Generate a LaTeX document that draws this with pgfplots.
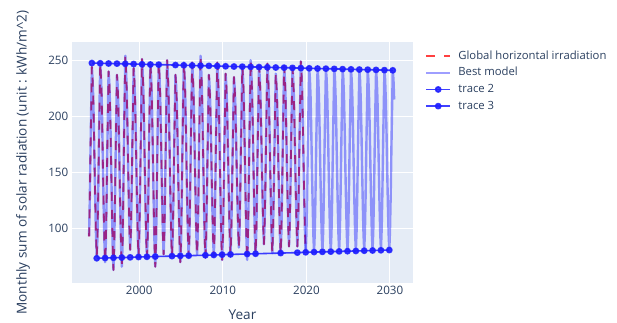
\documentclass[border=0pt]{standalone}
\usepackage{fontspec}
\setmainfont{Open Sans}
\usepackage{pgfplots}
\usepackage{pgfplotstable}
\pgfplotsset{compat=1.18}
\definecolor{bgc}{HTML}{E5ECF6}
\definecolor{txt}{HTML}{2A3F5F}
\definecolor{tr}{RGB}{30,30,255}

\pgfplotstableread[row sep=\\]{
yr mo v\\
1994 1 93\\ 1994 2 125\\ 1994 3 168\\ 1994 4 207\\ 1994 5 244\\ 1994 6 233\\ 1994 7 216\\ 1994 8 187\\ 1994 9 152\\ 1994 10 121\\ 1994 11 92\\ 1994 12 75\\
1995 1 91\\ 1995 2 127\\ 1995 3 171\\ 1995 4 210\\ 1995 5 247\\ 1995 6 236\\ 1995 7 219\\ 1995 8 188\\ 1995 9 150\\ 1995 10 117\\ 1995 11 88\\ 1995 12 70\\
1996 1 86\\ 1996 2 120\\ 1996 3 164\\ 1996 4 203\\ 1996 5 240\\ 1996 6 230\\ 1996 7 212\\ 1996 8 181\\ 1996 9 146\\ 1996 10 112\\ 1996 11 81\\ 1996 12 63\\
1997 1 82\\ 1997 2 118\\ 1997 3 160\\ 1997 4 199\\ 1997 5 237\\ 1997 6 228\\ 1997 7 210\\ 1997 8 178\\ 1997 9 143\\ 1997 10 110\\ 1997 11 83\\ 1997 12 66\\
1998 1 84\\ 1998 2 124\\ 1998 3 172\\ 1998 4 215\\ 1998 5 254\\ 1998 6 242\\ 1998 7 224\\ 1998 8 193\\ 1998 9 158\\ 1998 10 126\\ 1998 11 98\\ 1998 12 81\\
1999 1 97\\ 1999 2 128\\ 1999 3 170\\ 1999 4 206\\ 1999 5 243\\ 1999 6 232\\ 1999 7 215\\ 1999 8 185\\ 1999 9 151\\ 1999 10 119\\ 1999 11 91\\ 1999 12 74\\
2000 1 92\\ 2000 2 126\\ 2000 3 172\\ 2000 4 212\\ 2000 5 251\\ 2000 6 239\\ 2000 7 221\\ 2000 8 191\\ 2000 9 154\\ 2000 10 121\\ 2000 11 92\\ 2000 12 74\\
2001 1 90\\ 2001 2 125\\ 2001 3 170\\ 2001 4 210\\ 2001 5 248\\ 2001 6 236\\ 2001 7 218\\ 2001 8 187\\ 2001 9 150\\ 2001 10 114\\ 2001 11 84\\ 2001 12 66\\
2002 1 84\\ 2002 2 122\\ 2002 3 168\\ 2002 4 210\\ 2002 5 248\\ 2002 6 237\\ 2002 7 220\\ 2002 8 190\\ 2002 9 155\\ 2002 10 123\\ 2002 11 94\\ 2002 12 77\\
2003 1 94\\ 2003 2 128\\ 2003 3 172\\ 2003 4 212\\ 2003 5 250\\ 2003 6 239\\ 2003 7 222\\ 2003 8 191\\ 2003 9 156\\ 2003 10 122\\ 2003 11 93\\ 2003 12 75\\
2004 1 92\\ 2004 2 123\\ 2004 3 164\\ 2004 4 200\\ 2004 5 237\\ 2004 6 227\\ 2004 7 210\\ 2004 8 180\\ 2004 9 146\\ 2004 10 114\\ 2004 11 87\\ 2004 12 70\\
2005 1 88\\ 2005 2 124\\ 2005 3 170\\ 2005 4 210\\ 2005 5 248\\ 2005 6 237\\ 2005 7 220\\ 2005 8 189\\ 2005 9 153\\ 2005 10 120\\ 2005 11 92\\ 2005 12 75\\
2006 1 93\\ 2006 2 127\\ 2006 3 171\\ 2006 4 211\\ 2006 5 248\\ 2006 6 236\\ 2006 7 219\\ 2006 8 190\\ 2006 9 155\\ 2006 10 123\\ 2006 11 94\\ 2006 12 77\\
2007 1 95\\ 2007 2 130\\ 2007 3 176\\ 2007 4 216\\ 2007 5 254\\ 2007 6 242\\ 2007 7 224\\ 2007 8 193\\ 2007 9 156\\ 2007 10 122\\ 2007 11 91\\ 2007 12 74\\
2008 1 91\\ 2008 2 123\\ 2008 3 164\\ 2008 4 200\\ 2008 5 237\\ 2008 6 227\\ 2008 7 210\\ 2008 8 181\\ 2008 9 148\\ 2008 10 118\\ 2008 11 92\\ 2008 12 75\\
2009 1 93\\ 2009 2 126\\ 2009 3 170\\ 2009 4 210\\ 2009 5 248\\ 2009 6 237\\ 2009 7 219\\ 2009 8 189\\ 2009 9 152\\ 2009 10 118\\ 2009 11 89\\ 2009 12 72\\
2010 1 90\\ 2010 2 122\\ 2010 3 164\\ 2010 4 201\\ 2010 5 238\\ 2010 6 228\\ 2010 7 211\\ 2010 8 181\\ 2010 9 149\\ 2010 10 119\\ 2010 11 93\\ 2010 12 76\\
2011 1 94\\ 2011 2 125\\ 2011 3 164\\ 2011 4 199\\ 2011 5 235\\ 2011 6 226\\ 2011 7 210\\ 2011 8 182\\ 2011 9 152\\ 2011 10 124\\ 2011 11 100\\ 2011 12 83\\
2012 1 99\\ 2012 2 130\\ 2012 3 171\\ 2012 4 208\\ 2012 5 245\\ 2012 6 235\\ 2012 7 218\\ 2012 8 187\\ 2012 9 151\\ 2012 10 117\\ 2012 11 89\\ 2012 12 72\\
2013 1 90\\ 2013 2 126\\ 2013 3 172\\ 2013 4 212\\ 2013 5 250\\ 2013 6 239\\ 2013 7 221\\ 2013 8 191\\ 2013 9 156\\ 2013 10 122\\ 2013 11 94\\ 2013 12 77\\
2014 1 95\\ 2014 2 129\\ 2014 3 171\\ 2014 4 208\\ 2014 5 245\\ 2014 6 235\\ 2014 7 219\\ 2014 8 191\\ 2014 9 159\\ 2014 10 129\\ 2014 11 103\\ 2014 12 86\\
2015 1 104\\ 2015 2 134\\ 2015 3 175\\ 2015 4 211\\ 2015 5 247\\ 2015 6 236\\ 2015 7 219\\ 2015 8 190\\ 2015 9 155\\ 2015 10 124\\ 2015 11 96\\ 2015 12 78\\
2016 1 96\\ 2016 2 127\\ 2016 3 167\\ 2016 4 202\\ 2016 5 238\\ 2016 6 228\\ 2016 7 212\\ 2016 8 183\\ 2016 9 150\\ 2016 10 120\\ 2016 11 94\\ 2016 12 77\\
2017 1 95\\ 2017 2 128\\ 2017 3 170\\ 2017 4 208\\ 2017 5 245\\ 2017 6 235\\ 2017 7 219\\ 2017 8 190\\ 2017 9 157\\ 2017 10 127\\ 2017 11 101\\ 2017 12 84\\
2018 1 101\\ 2018 2 132\\ 2018 3 172\\ 2018 4 208\\ 2018 5 244\\ 2018 6 234\\ 2018 7 218\\ 2018 8 190\\ 2018 9 157\\ 2018 10 127\\ 2018 11 101\\ 2018 12 84\\
2019 1 101\\ 2019 2 133\\ 2019 3 175\\ 2019 4 212\\ 2019 5 249\\ 2019 6 238\\ 2019 7 221\\ 2019 8 191\\ 2019 9 156\\ 2019 10 124\\ 2019 11 96\\ 2019 12 78\\
}\ghi

\pgfplotstableread[row sep=\\]{
yr mo v\\
2019 12 78\\
2020 1 95\\ 2020 2 127\\ 2020 3 170\\ 2020 4 207\\ 2020 5 242.8\\ 2020 6 234\\ 2020 7 217\\ 2020 8 187\\ 2020 9 152\\ 2020 10 121\\ 2020 11 94\\ 2020 12 79.0\\
2021 1 96\\ 2021 2 128\\ 2021 3 170\\ 2021 4 207\\ 2021 5 242.6\\ 2021 6 234\\ 2021 7 217\\ 2021 8 187\\ 2021 9 152\\ 2021 10 121\\ 2021 11 94\\ 2021 12 79.2\\
2022 1 96\\ 2022 2 128\\ 2022 3 170\\ 2022 4 207\\ 2022 5 242.5\\ 2022 6 234\\ 2022 7 216\\ 2022 8 187\\ 2022 9 152\\ 2022 10 121\\ 2022 11 94\\ 2022 12 79.4\\
2023 1 96\\ 2023 2 128\\ 2023 3 170\\ 2023 4 207\\ 2023 5 242.3\\ 2023 6 234\\ 2023 7 216\\ 2023 8 187\\ 2023 9 152\\ 2023 10 121\\ 2023 11 95\\ 2023 12 79.6\\
2024 1 97\\ 2024 2 129\\ 2024 3 170\\ 2024 4 207\\ 2024 5 242.1\\ 2024 6 234\\ 2024 7 216\\ 2024 8 187\\ 2024 9 152\\ 2024 10 121\\ 2024 11 95\\ 2024 12 79.8\\
2025 1 97\\ 2025 2 129\\ 2025 3 170\\ 2025 4 207\\ 2025 5 241.9\\ 2025 6 233\\ 2025 7 216\\ 2025 8 187\\ 2025 9 152\\ 2025 10 121\\ 2025 11 95\\ 2025 12 80.0\\
2026 1 97\\ 2026 2 129\\ 2026 3 170\\ 2026 4 207\\ 2026 5 241.7\\ 2026 6 233\\ 2026 7 216\\ 2026 8 187\\ 2026 9 152\\ 2026 10 121\\ 2026 11 95\\ 2026 12 80.2\\
2027 1 97\\ 2027 2 129\\ 2027 3 170\\ 2027 4 207\\ 2027 5 241.6\\ 2027 6 233\\ 2027 7 216\\ 2027 8 187\\ 2027 9 152\\ 2027 10 121\\ 2027 11 95\\ 2027 12 80.4\\
2028 1 98\\ 2028 2 129\\ 2028 3 170\\ 2028 4 207\\ 2028 5 241.4\\ 2028 6 233\\ 2028 7 216\\ 2028 8 187\\ 2028 9 152\\ 2028 10 121\\ 2028 11 96\\ 2028 12 80.6\\
2029 1 98\\ 2029 2 129\\ 2029 3 170\\ 2029 4 207\\ 2029 5 241.2\\ 2029 6 233\\ 2029 7 215\\ 2029 8 187\\ 2029 9 152\\ 2029 10 121\\ 2029 11 96\\ 2029 12 80.8\\
2030 1 98\\ 2030 2 129\\ 2030 3 170\\ 2030 4 207\\ 2030 5 241.0\\ 2030 6 233\\ 2030 7 215\\
}\model

\pgfplotstableread[row sep=\\]{
yr mo v\\
1994 5 247.5\\ 1995 5 247.3\\ 1996 5 247.1\\ 1997 5 247.0\\ 1998 5 246.8\\ 1999 5 246.6\\ 2000 5 246.4\\ 2001 5 246.2\\ 2002 5 246.1\\
2004 5 245.7\\ 2005 5 245.5\\ 2006 5 245.3\\ 2007 5 245.2\\ 2008 5 245.0\\ 2009 5 244.8\\ 2010 5 244.6\\ 2011 5 244.4\\ 2012 5 244.3\\
2013 5 244.1\\ 2014 5 243.9\\ 2015 5 243.7\\ 2016 5 243.5\\ 2017 5 243.4\\ 2018 5 243.2\\ 2019 5 243.0\\ 2020 5 242.8\\ 2021 5 242.6\\
2022 5 242.5\\ 2023 5 242.3\\ 2024 5 242.1\\ 2025 5 241.9\\ 2026 5 241.7\\ 2027 5 241.6\\ 2028 5 241.4\\ 2029 5 241.2\\ 2030 5 241.0\\
}\trA

\pgfplotstableread[row sep=\\]{
yr mo v\\
1994 12 73.5\\ 1995 12 73.7\\ 1996 12 73.9\\ 1997 12 74.1\\ 1998 12 74.3\\ 1999 12 74.6\\ 2000 12 74.8\\ 2001 12 75.0\\
2003 12 75.4\\ 2004 12 75.6\\ 2005 12 75.8\\ 2007 12 76.2\\ 2008 12 76.4\\ 2009 12 76.7\\ 2010 12 76.9\\ 2012 12 77.3\\ 2013 12 77.5\\
2016 12 78.1\\ 2018 12 78.5\\ 2019 12 78.8\\ 2020 12 79.0\\ 2021 12 79.2\\ 2022 12 79.4\\ 2023 12 79.6\\ 2024 12 79.8\\ 2025 12 80.0\\
2026 12 80.2\\ 2027 12 80.4\\ 2028 12 80.6\\ 2029 12 80.8\\
}\trB

\begin{document}
\begin{tikzpicture}
\useasboundingbox (0,0) rectangle (617pt,323pt);
\begin{axis}[
  at={(71.7pt,40.3pt)}, anchor=south west,
  scale only axis, width=341.6pt, height=240.4pt,
  xmin=1991.92, xmax=2032.79, ymin=51.7, ymax=266,
  axis background/.style={fill=bgc},
  axis line style={draw=none},
  major tick length=0pt,
  xtick={2000,2010,2020,2030},
  ytick={100,150,200,250},
  grid=major,
  major grid style={white, line width=1pt},
  /pgf/number format/assume math mode=true,
  /pgf/number format/1000 sep={},
  tick label style={font=\fontsize{11.6}{14}\selectfont, text=txt},
  xlabel={Year},
  ylabel={Monthly sum of solar radiation (unit : kWh/m\textasciicircum 2)},
  label style={font=\fontsize{13.6}{16}\selectfont, text=txt},
  xlabel style={at={(axis description cs:0.5,-0.1344)}, anchor=center},
  ylabel style={at={(axis description cs:-0.1426,0.5)}, anchor=center},
  legend cell align=left,
  legend style={at={(1,1)}, anchor=north west, xshift=11.7pt, yshift=-8pt,
    draw=none, fill=none, inner sep=0pt, outer sep=0pt,
    row sep=5.2pt, column sep=7pt,
    font=\fontsize{11.3}{14}\selectfont, text=txt,
    nodes={inner sep=0pt, text height=9pt, text depth=2.5pt}},
  legend image code/.code={\draw[#1, mark repeat=2, mark phase=2] plot coordinates {(0pt,0pt) (12pt,0pt) (24pt,0pt)};},
  line join=round,
]
\addplot[red, opacity=0.75, line width=1.8pt, dash pattern=on 9pt off 9pt, line join=round]
  table[x expr=\thisrow{yr}+(\thisrow{mo}-1)/12, y=v] {\ghi};
\addlegendentry{Global horizontal irradiation}
\addplot[blue, opacity=0.38, line width=2.4pt, line join=round]
  table[x expr=\thisrow{yr}+(\thisrow{mo}-1)/12, y=v] {\ghi};
\addlegendentry{Best model}
\addplot[blue, opacity=0.38, line width=2.4pt, line join=round, forget plot]
  table[x expr=\thisrow{yr}+(\thisrow{mo}-1)/12, y=v] {\model};
\addplot[tr, opacity=0.85, line width=1.6pt, mark=*, mark size=2.6pt, mark options={solid, fill=tr, draw=tr}]
  table[x expr=\thisrow{yr}+(\thisrow{mo}-1)/12, y=v] {\trA};
\addlegendentry{trace 2}
\addplot[tr, opacity=0.85, line width=1.6pt, mark=*, mark size=2.6pt, mark options={solid, fill=tr, draw=tr}]
  table[x expr=\thisrow{yr}+(\thisrow{mo}-1)/12, y=v] {\trB};
\addlegendentry{trace 3}
\end{axis}
\end{tikzpicture}
\end{document}
